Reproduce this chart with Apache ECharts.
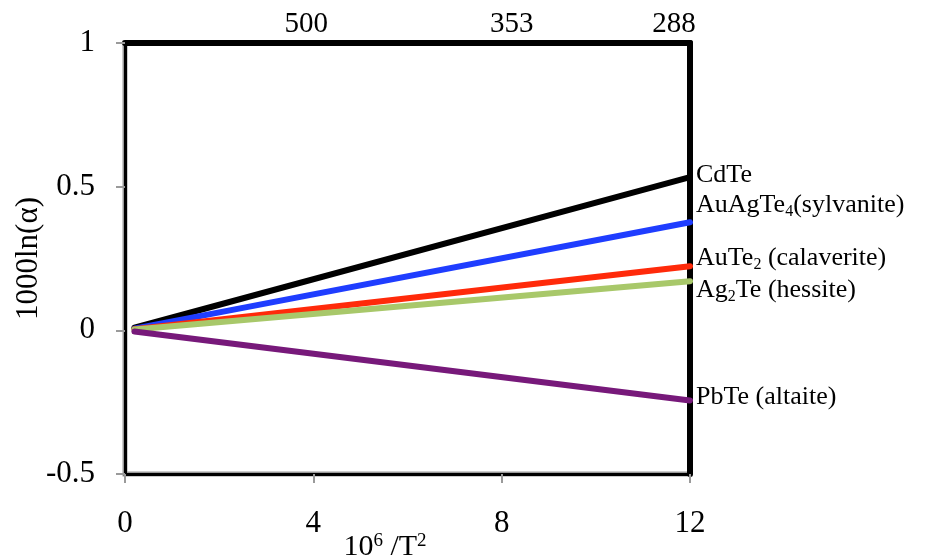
<!DOCTYPE html>
<html><head><meta charset="utf-8">
<script src="https://cdn.jsdelivr.net/npm/echarts@6/dist/echarts.min.js"></script>
<style>html,body{margin:0;padding:0;background:#fff}#c{width:925px;height:560px}</style>
</head><body><div id="c"></div>
<script>
var xStart = 0.2, xEnd = 12;
var seriesNames = ['CdTe', 'AuAgTe4(sylvanite)', 'AuTe2 (calaverite)', 'Ag2Te (hessite)', 'PbTe (altaite)'];
var labelRich = ['{a|CdTe}', '{a|AuAgTe}{s|4}{a|(sylvanite)}', '{a|AuTe}{s|2}{a| (calaverite)}', '{a|Ag}{s|2}{a|Te (hessite)}', '{a|PbTe (altaite)}'];
var startValues = [0.009, 0.006, 0.004, 0.003, -0.004];
var endValues = [0.533, 0.376, 0.223, 0.171, -0.244];
var colors = ['#000000', '#1f3dff', '#ff2a0a', '#a8c86a', '#77197a'];
var labelOffsets = [[0, -2], [0, -17], [0, -8], [0, 9], [0, -3]];
var topTickValues = [4, 8, 12];
var topTickLabels = ['500', '353', '288'];
var topTickPad = [-14, 20, -32];

var FONT = 'Liberation Serif';
var chart = echarts.init(document.getElementById('c'));
var series = seriesNames.map(function (n, i) {
  return {
    name: n, type: 'line', xAxisIndex: 0, yAxisIndex: 0,
    data: [[xStart, startValues[i]], [xEnd, endValues[i]]],
    showSymbol: false, symbol: 'none',
    lineStyle: { color: colors[i], width: 6, cap: 'round' },
    itemStyle: { color: colors[i] },
    endLabel: {
      show: true, formatter: labelRich[i], distance: 6, offset: labelOffsets[i],
      color: '#000',
      rich: {
        a: { fontFamily: FONT, fontSize: 26, color: '#000' },
        s: { fontFamily: FONT, fontSize: 16, color: '#000', padding: [13, 0, 0, 0] }
      }
    },
    z: 5
  };
});
chart.setOption({
  animation: false,
  grid: { left: 125, right: 235, top: 43, bottom: 86, outerBoundsMode: 'none', containLabel: false, show: true, borderColor: '#9a9a9a', borderWidth: 5, backgroundColor: 'transparent' },
  xAxis: [{
    type: 'value', min: 0, max: 12, interval: 4, position: 'bottom',
    axisLine: { show: true, onZero: false, lineStyle: { color: '#000', width: 3 } },
    axisTick: { show: true, length: 9, lineStyle: { color: '#9a9a9a', width: 2 } },
    splitLine: { show: false },
    axisLabel: { fontFamily: FONT, fontSize: 31, color: '#000', margin: 34 },
    name: '{a|10}{s|6}{a| /T}{s|2}', nameLocation: 'middle', nameGap: 58, nameMoveOverlap: false,
    nameTextStyle: {
      padding: [0, 45, 0, 0],
      rich: {
        a: { fontFamily: FONT, fontSize: 30, color: '#000' },
        s: { fontFamily: FONT, fontSize: 19, color: '#000', padding: [0, 0, 11, 0] }
      }
    }
  }, {
    type: 'value', min: 0, max: 12, interval: 4, position: 'top',
    axisLine: { show: true, onZero: false, lineStyle: { color: '#000', width: 6 } },
    axisTick: { show: false }, splitLine: { show: false },
    axisLabel: {
      fontFamily: FONT, fontSize: 29, color: '#000', margin: 4,
      formatter: function (v) {
        var k = topTickValues.indexOf(v);
        if (k < 0) return '';
        var sh = topTickPad[k];
        return sh < 0 ? '{t|' + topTickLabels[k] + '}{n' + k + '|}' : '{n' + k + '|}{t|' + topTickLabels[k] + '}';
      },
      rich: {
        t: { fontFamily: FONT, fontSize: 29, color: '#000' },
        n0: { width: 14 },
        n1: { width: 20 },
        n2: { width: 32 }
      }
    }
  }],
  yAxis: [{
    type: 'value', min: -0.5, max: 1, interval: 0.5, position: 'left',
    axisLine: { show: true, onZero: false, lineStyle: { color: '#000', width: 3 } },
    axisTick: { show: true, length: 9, lineStyle: { color: '#9a9a9a', width: 2 } },
    splitLine: { show: false },
    axisLabel: { fontFamily: FONT, fontSize: 31, color: '#000', margin: 30 },
    name: '1000ln(α)', nameLocation: 'middle', nameGap: 81, nameRotate: 90, nameMoveOverlap: false,
    nameTextStyle: { fontFamily: FONT, fontSize: 31, color: '#000' }
  }, {
    type: 'value', min: -0.5, max: 1, interval: 0.5, position: 'right',
    axisLine: { show: true, onZero: false, lineStyle: { color: '#000', width: 6 } },
    axisTick: { show: false }, axisLabel: { show: false }, splitLine: { show: false }
  }],
  series: series
});
</script></body></html>
